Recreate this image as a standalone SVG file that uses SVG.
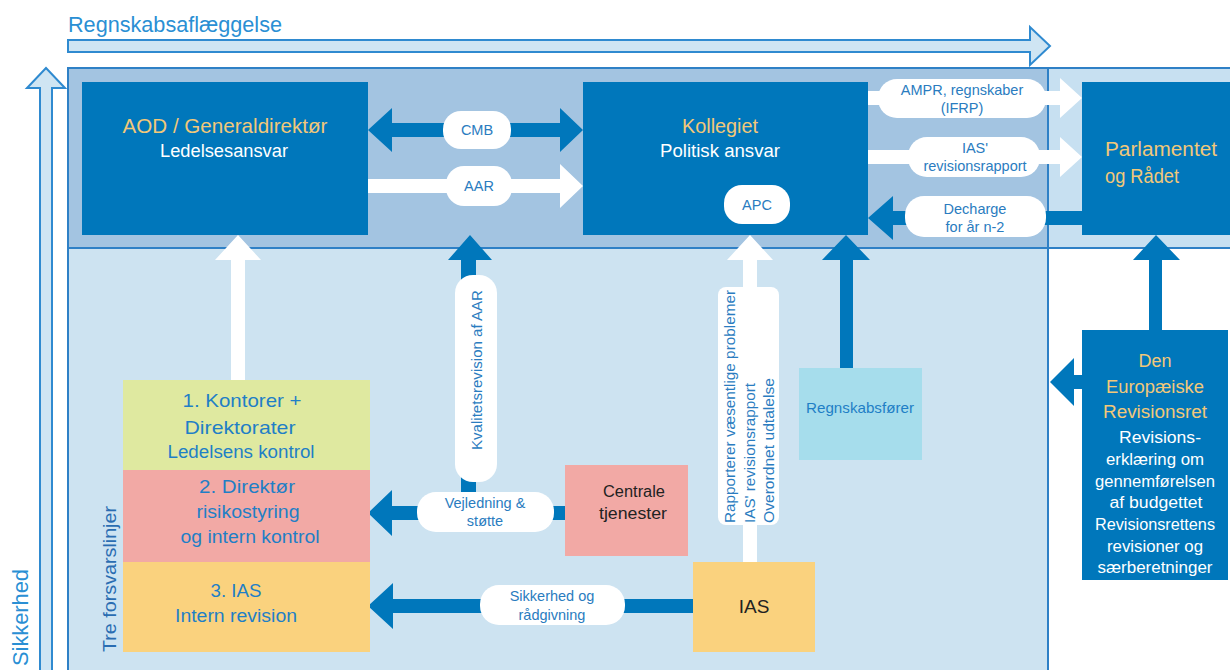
<svg xmlns="http://www.w3.org/2000/svg" width="1230" height="670" viewBox="0 0 1230 670">
<style>
text{font-family:"Liberation Sans","Noto Sans",Arial,sans-serif}
.box{fill:#0077bb}
.gold{fill:#f2c879;text-anchor:middle}
.wt{fill:#ffffff;text-anchor:middle}
.bt{fill:#1f7fc6;text-anchor:middle}
.pill{fill:#ffffff}
.pt{fill:#2a7cc0;font-size:14.5px;text-anchor:middle}
.vt{fill:#2a7cc0;font-size:14.5px}
.dk{fill:#222222;text-anchor:middle}
.ba{fill:#0077bb}
.wa{fill:#ffffff}
.outl{fill:#cfe5f3;stroke:#2f8ad0;stroke-width:2}
</style>
<rect width="1230" height="670" fill="#ffffff"/>
<g id="background">
<rect x="68" y="248" width="980" height="430" fill="#cde3f1"/>
<rect x="68" y="68" width="980" height="180" fill="#a3c4e1"/>
<rect x="1048" y="68" width="190" height="180" fill="#c7e0f1"/>
<path d="M68 680V68H1238M68 248H1238M1048 68V680" fill="none" stroke="#2e80c6" stroke-width="2"/>
</g>
<g id="axes">
<text x="68" y="32" font-size="22" fill="#2a8fd4" textLength="214" lengthAdjust="spacingAndGlyphs">Regnskabsaflæggelse</text>
<polygon class="outl" points="68,40 1030,40 1030,27 1050,46 1030,65 1030,52 68,52"/>
<polygon class="outl" points="40,680 40,88 27,88 46,68 65,88 52,88 52,680"/>
<text transform="translate(28,666) rotate(-90)" font-size="22" fill="#2a8fd4" textLength="97" lengthAdjust="spacingAndGlyphs">Sikkerhed</text>
<text transform="translate(116,652) rotate(-90)" font-size="18" fill="#2a6db2" textLength="146" lengthAdjust="spacingAndGlyphs">Tre forsvarslinjer</text>
</g>
<g id="connectors">
<polygon class="ba" points="368,130 392,108 392,123 560,123 560,108 583,130 560,152 560,137 392,137 392,152"/>
<rect class="pill" x="443" y="111" width="68" height="38" rx="18"/>
<text class="pt" x="477" y="135">CMB</text>
<polygon class="wa" points="368,179 560,179 560,164 583,186 560,208 560,193 368,193"/>
<rect class="pill" x="446" y="166" width="66" height="40" rx="18"/>
<text class="pt" x="479" y="191">AAR</text>
<polygon class="wa" points="868,91 1060,91 1060,78 1082,98 1060,118 1060,105 868,105"/>
<rect class="pill" x="878" y="79" width="168" height="39" rx="19"/>
<text class="pt" x="962" y="95">AMPR, regnskaber</text>
<text class="pt" x="962" y="113">(IFRP)</text>
<polygon class="wa" points="868,150 1060,150 1060,137 1082,157 1060,177 1060,164 868,164"/>
<rect class="pill" x="908" y="137" width="132" height="40" rx="19"/>
<text class="pt" x="975" y="153">IAS'</text>
<text class="pt" x="975" y="171">revisionsrapport</text>
<polygon class="ba" points="868,218 893,196 893,211 1082,211 1082,225 893,225 893,240"/>
<rect class="pill" x="905" y="196" width="141" height="41" rx="19"/>
<text class="pt" x="975" y="214">Decharge</text>
<text class="pt" x="975" y="232">for år n-2</text>
<polygon class="wa" points="231,380 231,260 215,260 238,235 261,260 245,260 245,380"/>
<polygon class="ba" points="461,505 461,260 448,260 470,235 492,260 476,260 476,505"/>
<rect class="pill" x="455" y="275" width="42" height="207" rx="18"/>
<text class="vt" transform="translate(482,450) rotate(-90)" textLength="160" lengthAdjust="spacingAndGlyphs">Kvalitetsrevision af AAR</text>
<polygon class="ba" points="368,513 392,490 392,506 565,506 565,520 392,520 392,536"/>
<rect class="pill" x="417" y="492" width="137" height="40" rx="19"/>
<text class="pt" x="485" y="508">Vejledning &amp;</text>
<text class="pt" x="485" y="526">støtte</text>
<polygon class="ba" points="368,606 393,583 393,599 693,599 693,613 393,613 393,629"/>
<rect class="pill" x="480" y="585" width="145" height="40" rx="19"/>
<text class="pt" x="552" y="601">Sikkerhed og</text>
<text class="pt" x="552" y="620">rådgivning</text>
<polygon class="wa" points="743,562 743,260 727,260 750,235 773,260 757,260 757,562"/>
<rect class="pill" x="718" y="287" width="61" height="238" rx="8"/>
<text class="vt" transform="translate(735,523) rotate(-90)" textLength="233" lengthAdjust="spacingAndGlyphs">Rapporterer væsentlige problemer</text>
<text class="vt" transform="translate(755,523) rotate(-90)" textLength="140" lengthAdjust="spacingAndGlyphs">IAS' revisionsrapport</text>
<text class="vt" transform="translate(774,523) rotate(-90)" textLength="145" lengthAdjust="spacingAndGlyphs">Overordnet udtalelse</text>
<polygon class="ba" points="840,368 840,260 822,260 846,235 870,260 853,260 853,368"/>
<polygon class="ba" points="1149,330 1149,260 1133,260 1156,235 1180,260 1162,260 1162,330"/>
<polygon class="ba" points="1050,382 1074,358 1074,375 1082,375 1082,389 1074,389 1074,406"/>
</g>
<g id="aod">
<rect class="box" x="82" y="82" width="286" height="153"/>
<text class="gold" x="225" y="133" font-size="21" textLength="205" lengthAdjust="spacingAndGlyphs">AOD / Generaldirektør</text>
<text class="wt" x="224" y="157" font-size="18" textLength="128" lengthAdjust="spacingAndGlyphs">Ledelsesansvar</text>
</g>
<g id="kollegiet">
<rect class="box" x="583" y="82" width="285" height="153"/>
<text class="gold" x="720" y="133" font-size="21" textLength="76" lengthAdjust="spacingAndGlyphs">Kollegiet</text>
<text class="wt" x="720" y="157" font-size="18" textLength="120" lengthAdjust="spacingAndGlyphs">Politisk ansvar</text>
<rect class="pill" x="724" y="185" width="66" height="39" rx="18"/>
<text class="pt" x="757" y="210">APC</text>
</g>
<g id="parlamentet">
<rect class="box" x="1082" y="82" width="150" height="153"/>
<text x="1105" y="156" font-size="20" fill="#f2c879" textLength="112" lengthAdjust="spacingAndGlyphs">Parlamentet</text>
<text x="1105" y="183" font-size="20" fill="#f2c879" textLength="74" lengthAdjust="spacingAndGlyphs">og Rådet</text>
</g>
<g id="line1">
<rect x="123" y="380" width="247" height="90" fill="#dfe9a0"/>
<text class="bt" x="242" y="407" font-size="19" textLength="119" lengthAdjust="spacingAndGlyphs">1. Kontorer +</text>
<text class="bt" x="240" y="434" font-size="19" textLength="111" lengthAdjust="spacingAndGlyphs">Direktorater</text>
<text class="bt" x="241" y="458" font-size="18" textLength="147" lengthAdjust="spacingAndGlyphs">Ledelsens kontrol</text>
</g>
<g id="line2">
<rect x="123" y="470" width="247" height="92" fill="#f2a9a5"/>
<text class="bt" x="247" y="493" font-size="19" textLength="96" lengthAdjust="spacingAndGlyphs">2. Direktør</text>
<text class="bt" x="248" y="518" font-size="18" textLength="103" lengthAdjust="spacingAndGlyphs">risikostyring</text>
<text class="bt" x="250" y="543" font-size="18" textLength="139" lengthAdjust="spacingAndGlyphs">og intern kontrol</text>
</g>
<g id="line3">
<rect x="123" y="562" width="247" height="90" fill="#fad27e"/>
<text class="bt" x="236" y="597" font-size="19" textLength="51" lengthAdjust="spacingAndGlyphs">3. IAS</text>
<text class="bt" x="236" y="622" font-size="18" textLength="122" lengthAdjust="spacingAndGlyphs">Intern revision</text>
</g>
<g id="centrale">
<rect x="565" y="465" width="123" height="91" fill="#f2a9a5"/>
<text class="dk" x="634" y="497" font-size="16" textLength="62" lengthAdjust="spacingAndGlyphs">Centrale</text>
<text class="dk" x="633" y="519" font-size="16" textLength="68" lengthAdjust="spacingAndGlyphs">tjenester</text>
</g>
<g id="ias">
<rect x="693" y="562" width="122" height="90" fill="#fad27e"/>
<text class="dk" x="754" y="613" font-size="19">IAS</text>
</g>
<g id="regnskabsforer">
<rect x="799" y="368" width="123" height="92" fill="#a6ddec"/>
<text class="bt" x="860" y="413" font-size="14.5" textLength="108" lengthAdjust="spacingAndGlyphs">Regnskabsfører</text>
</g>
<g id="revisionsret">
<rect class="box" x="1082" y="330" width="146" height="250"/>
<text class="gold" x="1155" y="367" font-size="18">Den</text>
<text class="gold" x="1155" y="393" font-size="18" textLength="98" lengthAdjust="spacingAndGlyphs">Europæiske</text>
<text class="gold" x="1155" y="418" font-size="18" textLength="104" lengthAdjust="spacingAndGlyphs">Revisionsret</text>
<text class="wt" x="1160" y="443" font-size="16" textLength="82" lengthAdjust="spacingAndGlyphs">Revisions-</text>
<text class="wt" x="1155" y="465" font-size="16" textLength="98" lengthAdjust="spacingAndGlyphs">erklæring om</text>
<text class="wt" x="1155" y="487" font-size="16" textLength="120" lengthAdjust="spacingAndGlyphs">gennemførelsen</text>
<text class="wt" x="1156" y="508" font-size="16" textLength="93" lengthAdjust="spacingAndGlyphs">af budgettet</text>
<text class="wt" x="1155" y="530" font-size="16" textLength="120" lengthAdjust="spacingAndGlyphs">Revisionsrettens</text>
<text class="wt" x="1155" y="552" font-size="16" textLength="96" lengthAdjust="spacingAndGlyphs">revisioner  og</text>
<text class="wt" x="1155" y="573" font-size="16" textLength="115" lengthAdjust="spacingAndGlyphs">særberetninger</text>
</g>
</svg>
